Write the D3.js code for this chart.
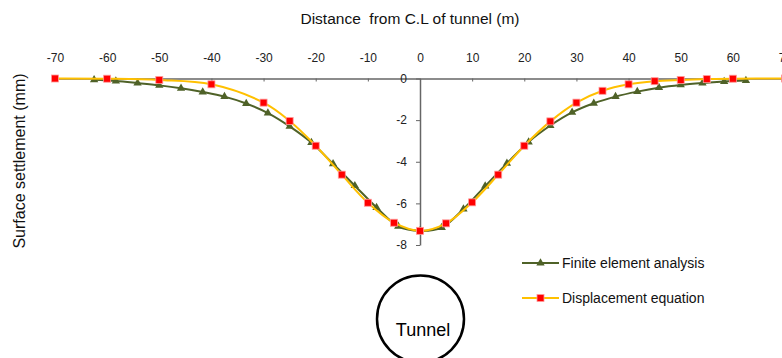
<!DOCTYPE html>
<html>
<head>
<meta charset="utf-8">
<script src="https://cdn.jsdelivr.net/npm/d3@7"></script>
<style>
  body { margin: 0; background: #fff; }
  svg { font-family: "Liberation Sans", Arial, sans-serif; }
</style>
</head>
<body>
<div id="chart"></div>
<script>
// Finite element analysis (nodes every 25/6 m)
const feaX = [-62.5, -58.33, -54.17, -50, -45.83, -41.67, -37.5, -33.33, -29.17, -25, -20.83,
  -16.67, -12.5, -8.33, -4.17, 0, 4.17, 8.33, 12.5, 16.67, 20.83, 25, 29.17, 33.33, 37.5,
  41.67, 45.83, 50, 54.17, 58.33, 62.5];
const feaY = [-0.06, -0.12, -0.22, -0.33, -0.47, -0.65, -0.87, -1.2, -1.66, -2.3, -3.08,
  -4.1, -5.15, -6.2, -7.1, -7.32, -7.16, -6.27, -5.17, -4.08, -3.05, -2.26, -1.63, -1.19, -0.87,
  -0.63, -0.44, -0.31, -0.22, -0.15, -0.1];

// Displacement equation
const eqX = [-70, -60, -50, -40, -30, -25, -20, -15, -10, -5, 0, 5, 10, 15, 20, 25, 30, 35, 40, 45, 50, 55, 60, 70];
const eqY = [0, -0.01, -0.07, -0.28, -1.16, -2.04, -3.23, -4.62, -5.97, -6.93, -7.32, -6.96, -5.95,
  -4.62, -3.23, -2.06, -1.16, -0.59, -0.28, -0.13, -0.07, -0.03, -0.01, 0];

const xTicks = [-70, -60, -50, -40, -30, -20, -10, 0, 10, 20, 30, 40, 50, 60, 70];
const yTicks = [0, -2, -4, -6, -8];

const width = 782;
const height = 358;

const svg = d3.select("#chart")
  .append("svg")
  .attr("width", width)
  .attr("height", height);

const x = d3.scaleLinear().domain([-70, 70]).range([55, 785]);
const y = d3.scaleLinear().domain([-8, 0]).range([245, 78.5]);

// plain hyphen for negatives, like the original
const fmt = (d) => String(d);

// Title and axis label
svg.append("text")
  .attr("x", 410).attr("y", 24)
  .attr("text-anchor", "middle")
  .style("font-size", "15.5px")
  .style("white-space", "pre")
  .attr("fill", "#111")
  .text("Distance  from C.L of tunnel (m)");

svg.append("text")
  .attr("transform", "translate(25,161) rotate(-90)")
  .attr("text-anchor", "middle")
  .style("font-size", "16px")
  .attr("fill", "#111")
  .text("Surface settlement (mm)");

// X axis (labels on top, small ticks below)
const xAxis = svg.append("g")
  .attr("transform", `translate(0,${y(0)})`)
  .call(d3.axisBottom(x).tickValues(xTicks).tickSize(3).tickSizeOuter(0).tickFormat(fmt));
xAxis.select(".domain").attr("stroke", "#666").attr("stroke-width", 1.5);
xAxis.selectAll(".tick line").attr("stroke", "#666");
xAxis.selectAll(".tick text")
  .attr("y", -21)
  .attr("dy", "0.35em")
  .style("font-size", "12px")
  .attr("fill", "#222");

// Y axis at x = 0
const yAxis = svg.append("g")
  .attr("transform", `translate(${x(0)},0)`)
  .call(d3.axisLeft(y).tickValues(yTicks).tickSize(4).tickSizeOuter(0).tickFormat(fmt));
yAxis.select(".domain").attr("stroke", "#666").attr("stroke-width", 1.5);
yAxis.selectAll(".tick line").attr("stroke", "#666");
yAxis.selectAll(".tick text")
  .attr("x", -13)
  .style("font-size", "12px")
  .attr("fill", "#222");

const line = d3.line()
  .x((d) => x(d[0]))
  .y((d) => y(d[1]))
  .curve(d3.curveCatmullRom.alpha(0.5));

const feaData = feaX.map((v, i) => [v, feaY[i]]);
const eqData = eqX.map((v, i) => [v, eqY[i]]);

const green = "#4f6228";
const yellow = "#ffc000";
const red = "#ff0000";

const tri = d3.symbol().type(d3.symbolTriangle).size(30);

// FEA series
svg.append("path")
  .datum(feaData)
  .attr("d", line)
  .attr("fill", "none")
  .attr("stroke", green)
  .attr("stroke-width", 2);

svg.append("g")
  .selectAll("path")
  .data(feaData)
  .join("path")
  .attr("d", tri)
  .attr("transform", (d) => `translate(${x(d[0])},${y(d[1])})`)
  .attr("fill", green);

// Displacement equation series
svg.append("path")
  .datum(eqData)
  .attr("d", line)
  .attr("fill", "none")
  .attr("stroke", yellow)
  .attr("stroke-width", 2);

svg.append("g")
  .selectAll("rect")
  .data(eqData)
  .join("rect")
  .attr("x", (d) => x(d[0]) - 3.5)
  .attr("y", (d) => y(d[1]) - 3.5)
  .attr("width", 7)
  .attr("height", 7)
  .attr("fill", red)
  .attr("stroke", "#ff9999")
  .attr("stroke-width", 0.8);

// Legend
const legend = [
  { label: "Finite element analysis", color: green, marker: "tri", y: 263 },
  { label: "Displacement equation", color: yellow, marker: "sq", y: 298 },
];
legend.forEach((l) => {
  const g = svg.append("g");
  g.append("line")
    .attr("x1", 522).attr("x2", 559)
    .attr("y1", l.y).attr("y2", l.y)
    .attr("stroke", l.color)
    .attr("stroke-width", 2);
  if (l.marker === "tri") {
    g.append("path")
      .attr("d", tri)
      .attr("transform", `translate(540.5,${l.y})`)
      .attr("fill", green);
  } else {
    g.append("rect")
      .attr("x", 537).attr("y", l.y - 3.5)
      .attr("width", 7).attr("height", 7)
      .attr("fill", red)
      .attr("stroke", "#ff9999")
      .attr("stroke-width", 0.8);
  }
  g.append("text")
    .attr("x", 562).attr("y", l.y)
    .attr("dy", "0.35em")
    .style("font-size", "14px")
    .attr("fill", "#111")
    .text(l.label);
});

// Tunnel
svg.append("circle")
  .attr("cx", 420.5).attr("cy", 319)
  .attr("r", 43.5)
  .attr("fill", "none")
  .attr("stroke", "#000")
  .attr("stroke-width", 2.5);

svg.append("text")
  .attr("x", 423).attr("y", 336)
  .attr("text-anchor", "middle")
  .style("font-size", "18px")
  .attr("fill", "#000")
  .text("Tunnel");
</script>
</body>
</html>
